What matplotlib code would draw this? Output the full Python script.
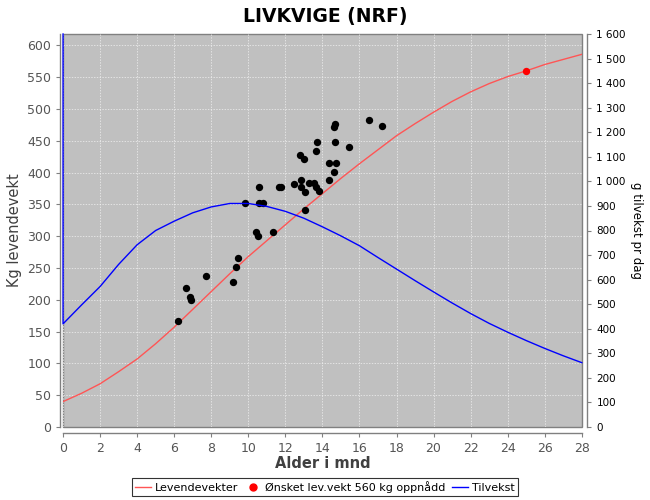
import matplotlib
matplotlib.use("Agg")
import matplotlib.pyplot as plt
from matplotlib.lines import Line2D
from matplotlib.ticker import FuncFormatter, MultipleLocator

# growth curve (kg live weight) per month of age
months = list(range(0, 29))
weight_kg = [40, 53, 68, 87, 107, 131, 157, 185, 213, 241, 268, 293, 318, 343, 367,
             391, 414, 436, 458, 477, 495, 512, 527, 540, 551, 560, 570, 578, 586]

# daily gain (g per day); first point is the vertical jump at age 0
gain_months = [0] + months
gain_g = [1600, 420, 497, 572, 662, 742, 800, 838, 872, 896, 910, 910, 898, 878, 850,
          815, 778, 738, 690, 643, 596, 550, 505, 462, 422, 386, 352, 320, 290, 262]

# individual weighings (age in months, kg)
obs_age = [6.23, 6.65, 6.83, 6.9, 7.69, 9.15, 9.35, 9.47, 9.8, 10.44, 10.55, 10.57,
           10.78, 10.6, 11.36, 11.65, 11.79, 12.44, 12.8, 13.02, 12.85, 12.84, 13.04,
           13.04, 13.3, 13.55, 13.66, 13.79, 13.63, 13.72, 14.33, 14.76, 14.33, 14.65,
           14.6, 14.69, 14.7, 15.41, 16.54, 17.24]
obs_kg = [167, 219, 204, 199, 238, 228, 252, 266, 352, 307, 301, 352,
          352, 377, 307, 377, 377, 382, 427, 421, 388, 377, 370,
          341, 383, 383, 378, 371, 434, 448, 415, 415, 389, 401,
          471, 476, 448, 440, 483, 474]

# target weight reached
target_age = [25]
target_kg = [560]

fig = plt.figure(figsize=(6.5, 5), dpi=100)
ax = fig.add_axes([0.097, 0.146, 0.798, 0.786])
axr = ax.twinx()

ax.set_facecolor("#c0c0c0")
ax.patch.set_edgecolor("#808080")
ax.patch.set_linewidth(1.0)

ax.plot(months, weight_kg, color="#ff5555", lw=1.0, zorder=2)
ax.scatter(obs_age, obs_kg, s=28, color="black", zorder=3, linewidths=0)
ax.scatter(target_age, target_kg, s=28, color="#ff0000", zorder=4, linewidths=0)
axr.plot(gain_months, gain_g, color="#0000ff", lw=1.0, clip_on=False)

ax.set_xlim(0, 28)
ax.set_ylim(0, 618)
axr.set_ylim(0, 1600)

ax.xaxis.set_major_locator(MultipleLocator(2))
ax.yaxis.set_major_locator(MultipleLocator(50))
axr.yaxis.set_major_locator(MultipleLocator(100))
axr.yaxis.set_major_formatter(FuncFormatter(lambda v, p: f"{int(v):,}".replace(",", " ")))

ax.set_axisbelow(True)
ax.grid(True, color="#f2f2f2", ls=(0, (2, 2)), lw=0.5)

for a in (ax, axr):
    for s in a.spines.values():
        s.set_visible(False)

ax.spines["left"].set_visible(True)
ax.spines["left"].set_position(("outward", 2))
ax.spines["bottom"].set_visible(True)
ax.spines["bottom"].set_position(("outward", 4))
axr.spines["right"].set_visible(True)
axr.spines["right"].set_position(("outward", 4))
for s in (ax.spines["left"], ax.spines["bottom"], axr.spines["right"]):
    s.set_color("#808080")
    s.set_linewidth(1.0)

ax.tick_params(axis="both", colors="#808080", labelcolor="#555555", labelsize=9,
               length=3, width=0.8)
axr.tick_params(axis="y", colors="#808080", labelcolor="black", labelsize=7.5,
                length=3, width=0.8)

ax.set_xlabel("Alder i mnd", fontsize=10.5, fontweight="bold", color="#404040", labelpad=1)
ax.set_ylabel("Kg levendevekt", fontsize=10.5, color="#404040", labelpad=4)
axr.set_ylabel("g tilvekst pr dag", fontsize=8.5, color="black", rotation=270, labelpad=12)

fig.text(0.5, 0.967, "LIVKVIGE (NRF)", ha="center", va="center", fontsize=13.5,
         fontweight="bold")

handles = [
    Line2D([], [], color="#ff5555", lw=1.0),
    Line2D([], [], color="#ff0000", marker="o", ls="none", markersize=5),
    Line2D([], [], color="#0000ff", lw=1.0),
]
labels = ["Levendevekter", "Ønsket lev.vekt 560 kg oppnådd", "Tilvekst"]
leg = fig.legend(handles, labels, loc="lower center", bbox_to_anchor=(0.5, 0.003), ncol=3,
                 fontsize=8, frameon=True, fancybox=False, edgecolor="black",
                 handlelength=1.4, handletextpad=0.4, columnspacing=0.6,
                 borderpad=0.3, borderaxespad=0.2)
leg.get_frame().set_linewidth(0.8)

fig.savefig("out.png", dpi=100)
